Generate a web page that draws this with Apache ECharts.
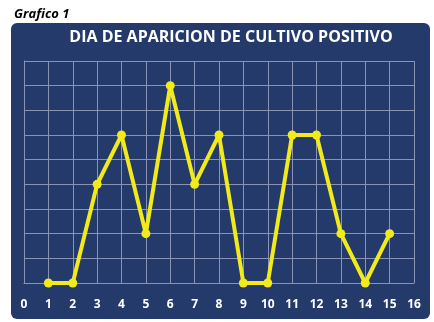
<!DOCTYPE html>
<html>
<head>
<meta charset="utf-8">
<script src="https://cdn.jsdelivr.net/npm/echarts@6/dist/echarts.min.js"></script>
<style>
  html, body { margin: 0; padding: 0; background: #fff; }
  #chart { width: 434px; height: 322px; }
</style>
</head>
<body>
<div id="chart"></div>
<script>
// dia de aparicion de cultivo positivo
const dias = [1, 2, 3, 4, 5, 6, 7, 8, 9, 10, 11, 12, 13, 14, 15];
const valores = [0, 0, 4, 6, 2, 8, 4, 6, 0, 0, 6, 6, 2, 0, 2];

const gridColor = "#8a93b4";
const yellow = "#f2ea1a";

const chart = echarts.init(document.getElementById("chart"));
const option = {
  animation: false,
  graphic: [
    {
      type: "rect",
      z: -10,
      shape: { x: 11, y: 23, width: 419, height: 296, r: 6 },
      style: { fill: "#233a6b" },
    },
  ],
  title: [
    {
      text: "Grafico 1",
      left: 9,
      top: 3,
      textStyle: {
        fontFamily: "Open Sans",
        fontStyle: "italic",
        fontWeight: "bold",
        fontSize: 13,
        color: "#000",
      },
    },
    {
      text: "DIA DE APARICION DE CULTIVO POSITIVO",
      left: 226,
      textAlign: "center",
      top: 24,
      textStyle: {
        fontFamily: "Open Sans",
        fontWeight: "bold",
        fontSize: 16,
        color: "#fff",
      },
    },
  ],
  grid: { left: 24, right: 20, top: 61, bottom: 39 },
  xAxis: {
    type: "value",
    min: 0,
    max: 16,
    interval: 1,
    axisLine: { show: true, lineStyle: { color: gridColor, width: 1 } },
    axisTick: { show: false },
    splitLine: { show: true, lineStyle: { color: gridColor, width: 1 } },
    axisLabel: {
      color: "#fff",
      fontWeight: "bold",
      fontFamily: "Open Sans",
      fontSize: 12,
      margin: 16,
    },
  },
  yAxis: {
    type: "value",
    min: 0,
    max: 9,
    interval: 1,
    axisLine: { show: true, lineStyle: { color: gridColor, width: 1 } },
    axisTick: { show: false },
    axisLabel: { show: false },
    splitLine: { show: true, lineStyle: { color: gridColor, width: 1 } },
  },
  series: [
    {
      type: "line",
      data: dias.map((d, i) => [d, valores[i]]),
      symbol: "circle",
      symbolSize: 9,
      lineStyle: { color: yellow, width: 4 },
      itemStyle: { color: yellow },
    },
  ],
};
chart.setOption(option);
</script>
</body>
</html>
